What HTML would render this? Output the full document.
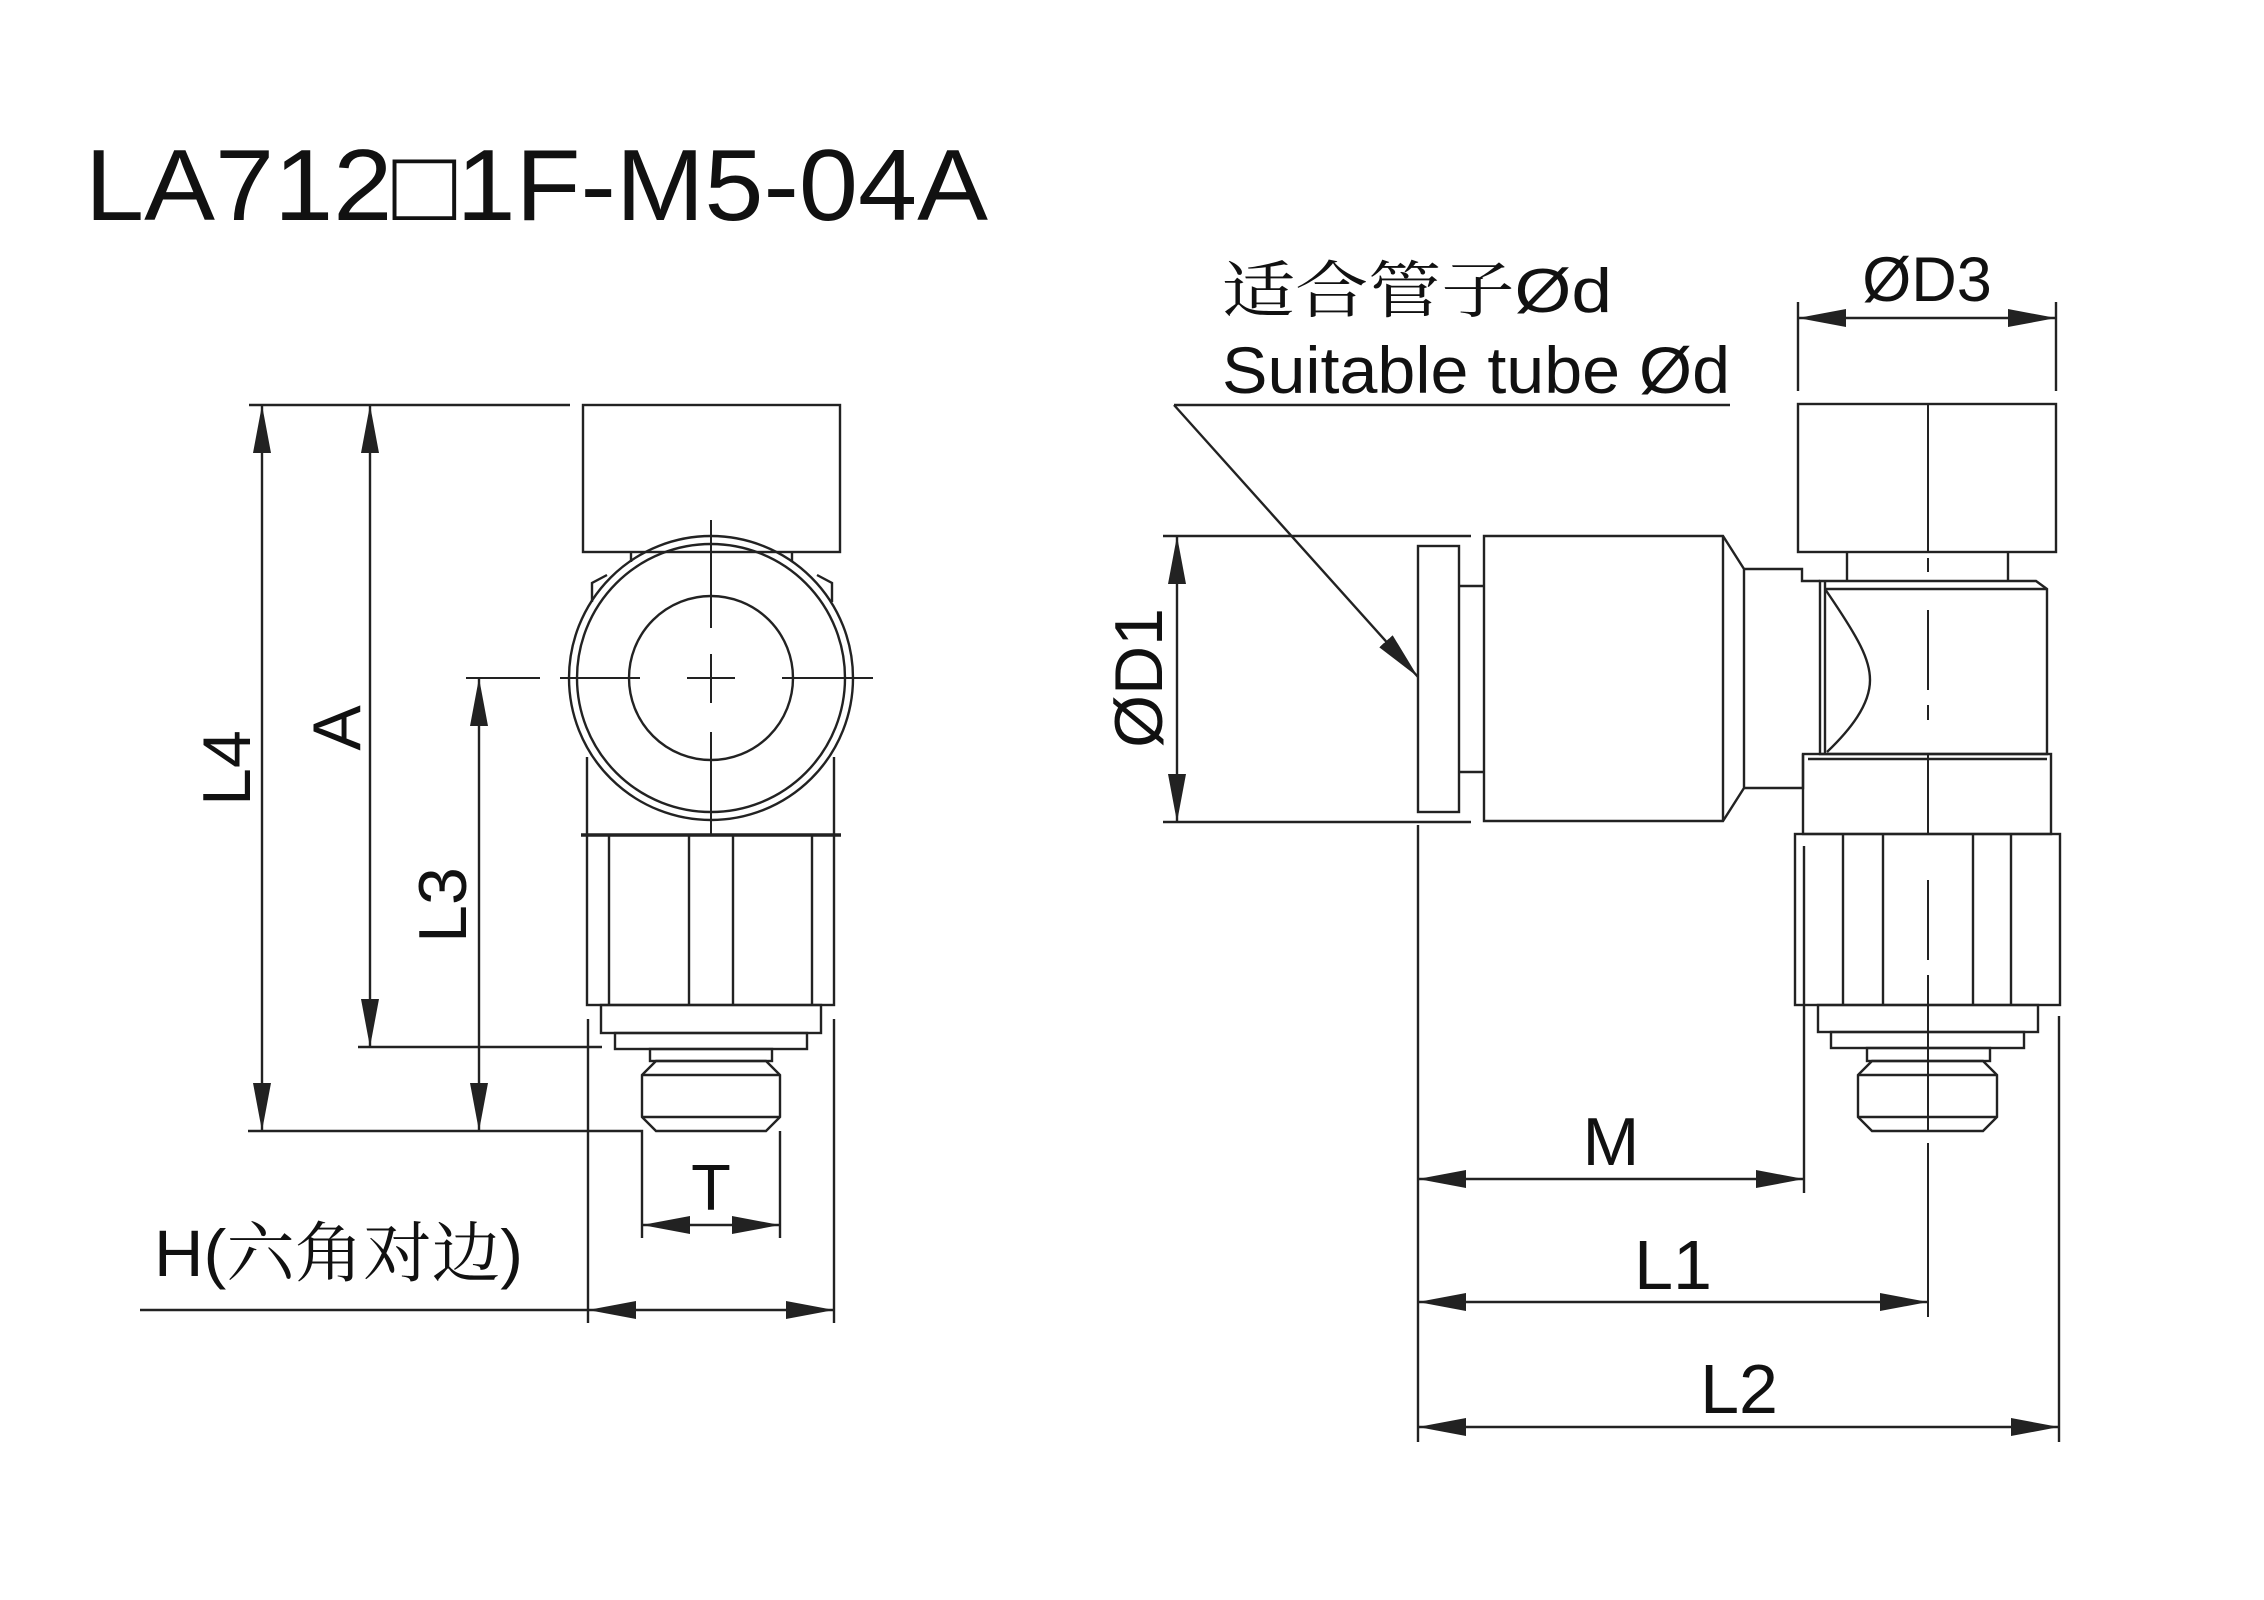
<!DOCTYPE html>
<html><head><meta charset="utf-8"><style>html,body{margin:0;padding:0;background:#fff}svg{display:block}</style></head>
<body>
<svg width="2264" height="1600" viewBox="0 0 2264 1600" xmlns="http://www.w3.org/2000/svg">
<defs>
<marker id="ar" viewBox="0 0 48 18" refX="48" refY="9" markerWidth="48" markerHeight="18" markerUnits="userSpaceOnUse" orient="auto-start-reverse">
<path d="M0,0 L48,9 L0,18 Z" fill="#222"/>
</marker>
</defs>
<g fill="none" stroke="#222" stroke-width="2.4">
<!-- LEFT VIEW -->
<line x1="249" y1="405" x2="570" y2="405"/>
<rect x="583" y="405" width="257" height="147"/>
<line x1="631" y1="552" x2="631" y2="562"/><line x1="792" y1="552" x2="792" y2="562"/>
<path d="M592,602 L592,583 L607,575"/><path d="M832,602 L832,583 L817,575"/>
<ellipse cx="711" cy="678" rx="142" ry="142"/>
<ellipse cx="711" cy="678" rx="134" ry="134"/>
<ellipse cx="711" cy="678" rx="82" ry="82"/>
<line x1="587" y1="757" x2="587" y2="835"/><line x1="834" y1="757" x2="834" y2="835"/>
<line x1="581" y1="835" x2="841" y2="835" stroke-width="3.5"/>
<rect x="587" y="835" width="247" height="170"/>
<line x1="609" y1="835" x2="609" y2="1005"/><line x1="689" y1="835" x2="689" y2="1005"/>
<line x1="733" y1="835" x2="733" y2="1005"/><line x1="812" y1="835" x2="812" y2="1005"/>
<rect x="601" y="1005" width="220" height="28"/>
<rect x="615" y="1033" width="192" height="16"/>
<rect x="650" y="1049" width="122" height="12"/>
<path d="M656,1061 L766,1061 L780,1075 L780,1117 L766,1131 L656,1131 L642,1117 L642,1075 Z"/>
<line x1="642" y1="1075" x2="780" y2="1075"/><line x1="642" y1="1117" x2="780" y2="1117"/>
<!-- center lines left -->
<g stroke-width="2">
<line x1="466" y1="678" x2="540" y2="678"/><line x1="560" y1="678" x2="640" y2="678"/>
<line x1="687" y1="678" x2="735" y2="678"/><line x1="782" y1="678" x2="873" y2="678"/>
<line x1="711" y1="520" x2="711" y2="628"/><line x1="711" y1="654" x2="711" y2="703"/><line x1="711" y1="732" x2="711" y2="835"/>
</g>
<!-- dims left -->
<line x1="262" y1="405" x2="262" y2="1131" marker-start="url(#ar)" marker-end="url(#ar)"/>
<line x1="370" y1="405" x2="370" y2="1047" marker-start="url(#ar)" marker-end="url(#ar)"/>
<line x1="479" y1="678" x2="479" y2="1131" marker-start="url(#ar)" marker-end="url(#ar)"/>
<line x1="358" y1="1047" x2="602" y2="1047"/>
<path d="M248,1131 L642,1131 L642,1238"/>
<line x1="780" y1="1131" x2="780" y2="1238"/>
<line x1="642" y1="1225" x2="780" y2="1225" marker-start="url(#ar)" marker-end="url(#ar)"/>
<line x1="588" y1="1019" x2="588" y2="1323"/><line x1="834" y1="1019" x2="834" y2="1323"/>
<line x1="140" y1="1310" x2="588" y2="1310"/>
<line x1="588" y1="1310" x2="834" y2="1310" marker-start="url(#ar)" marker-end="url(#ar)"/>

<!-- RIGHT VIEW -->
<line x1="1174" y1="405" x2="1730" y2="405"/>
<line x1="1174" y1="405" x2="1418" y2="677" marker-end="url(#ar)"/>
<line x1="1798" y1="302" x2="1798" y2="391"/><line x1="2056" y1="302" x2="2056" y2="391"/>
<line x1="1798" y1="318" x2="2056" y2="318" marker-start="url(#ar)" marker-end="url(#ar)"/>
<rect x="1798" y="404" width="258" height="148"/>
<line x1="1847" y1="552" x2="1847" y2="581"/><line x1="2008" y1="552" x2="2008" y2="581"/>
<path d="M1820,581 L2036,581 L2047,589 L2047,754 L1820,754 Z"/>
<line x1="1825" y1="589" x2="2047" y2="589"/>
<line x1="1825" y1="581" x2="1825" y2="754"/>
<path d="M1825,589 C1860,640 1870,660 1870,680 C1870,705 1850,730 1827,752"/>
<rect x="1803" y="754" width="248" height="80"/>
<line x1="1808" y1="759" x2="2047" y2="759"/>
<rect x="1795" y="834" width="265" height="171"/>
<line x1="1843" y1="834" x2="1843" y2="1005"/><line x1="1883" y1="834" x2="1883" y2="1005"/>
<line x1="1973" y1="834" x2="1973" y2="1005"/><line x1="2011" y1="834" x2="2011" y2="1005"/>
<rect x="1818" y="1005" width="220" height="27"/>
<rect x="1831" y="1032" width="193" height="16"/>
<rect x="1867" y="1048" width="123" height="13"/>
<path d="M1872,1061 L1983,1061 L1997,1075 L1997,1117 L1983,1131 L1872,1131 L1858,1117 L1858,1075 Z"/>
<line x1="1858" y1="1075" x2="1997" y2="1075"/><line x1="1858" y1="1117" x2="1997" y2="1117"/>
<!-- horizontal tube part -->
<rect x="1418" y="546" width="41" height="266"/>
<line x1="1459" y1="586" x2="1484" y2="586"/><line x1="1459" y1="772" x2="1484" y2="772"/>
<path d="M1484,536 L1723,536 L1744,569 L1744,788 L1723,821 L1484,821 Z"/>
<line x1="1723" y1="536" x2="1723" y2="821"/>
<path d="M1744,569 L1802,569 L1802,581 L1820,581"/>
<path d="M1744,788 L1803,788 L1803,754"/>
<!-- center line right -->
<g stroke-width="2">
<line x1="1928" y1="404" x2="1928" y2="552"/>
<line x1="1928" y1="558" x2="1928" y2="572"/>
<line x1="1928" y1="610" x2="1928" y2="690"/><line x1="1928" y1="705" x2="1928" y2="720"/>
<line x1="1928" y1="754" x2="1928" y2="834"/>
<line x1="1928" y1="880" x2="1928" y2="960"/><line x1="1928" y1="975" x2="1928" y2="1131"/>
<line x1="1928" y1="1143" x2="1928" y2="1317"/>
</g>
<!-- dims right -->
<line x1="1163" y1="536" x2="1471" y2="536"/><line x1="1163" y1="822" x2="1471" y2="822"/>
<line x1="1177" y1="536" x2="1177" y2="822" marker-start="url(#ar)" marker-end="url(#ar)"/>
<line x1="1418" y1="825" x2="1418" y2="1442"/>
<line x1="1804" y1="846" x2="1804" y2="1193"/>
<line x1="2059" y1="1016" x2="2059" y2="1442"/>
<line x1="1418" y1="1179" x2="1804" y2="1179" marker-start="url(#ar)" marker-end="url(#ar)"/>
<line x1="1418" y1="1302" x2="1928" y2="1302" marker-start="url(#ar)" marker-end="url(#ar)"/>
<line x1="1418" y1="1427" x2="2059" y2="1427" marker-start="url(#ar)" marker-end="url(#ar)"/>
</g>
<g fill="#111" font-family="'Liberation Sans', sans-serif">
<text x="85" y="220" font-size="101" textLength="903" lengthAdjust="spacingAndGlyphs">LA712□1F-M5-04A</text>
<text transform="translate(250,768) rotate(-90)" font-size="68" text-anchor="middle">L4</text>
<text transform="translate(360,728) rotate(-90)" font-size="68" text-anchor="middle">A</text>
<text transform="translate(466,905) rotate(-90)" font-size="68" text-anchor="middle">L3</text>
<text transform="translate(1162,678) rotate(-90)" font-size="68" text-anchor="middle">ØD1</text>
<text x="711" y="1210" font-size="65" text-anchor="middle">T</text>
<text x="154" y="1276" font-size="66" font-family="'Liberation Sans','Noto Serif CJK SC',serif" textLength="369" lengthAdjust="spacingAndGlyphs">H(六角对边)</text>
<text x="1222" y="312" font-size="62" font-family="'Liberation Sans','Noto Serif CJK SC',serif" textLength="390" lengthAdjust="spacingAndGlyphs">适合管子Ød</text>
<text x="1222" y="393" font-size="66" textLength="508" lengthAdjust="spacingAndGlyphs">Suitable tube Ød</text>
<text x="1927" y="301" font-size="63" text-anchor="middle">ØD3</text>
<text x="1611" y="1165" font-size="68" text-anchor="middle">M</text>
<text x="1673" y="1289" font-size="70" text-anchor="middle">L1</text>
<text x="1739" y="1413" font-size="70" text-anchor="middle">L2</text>
</g>
</svg>
</body></html>
